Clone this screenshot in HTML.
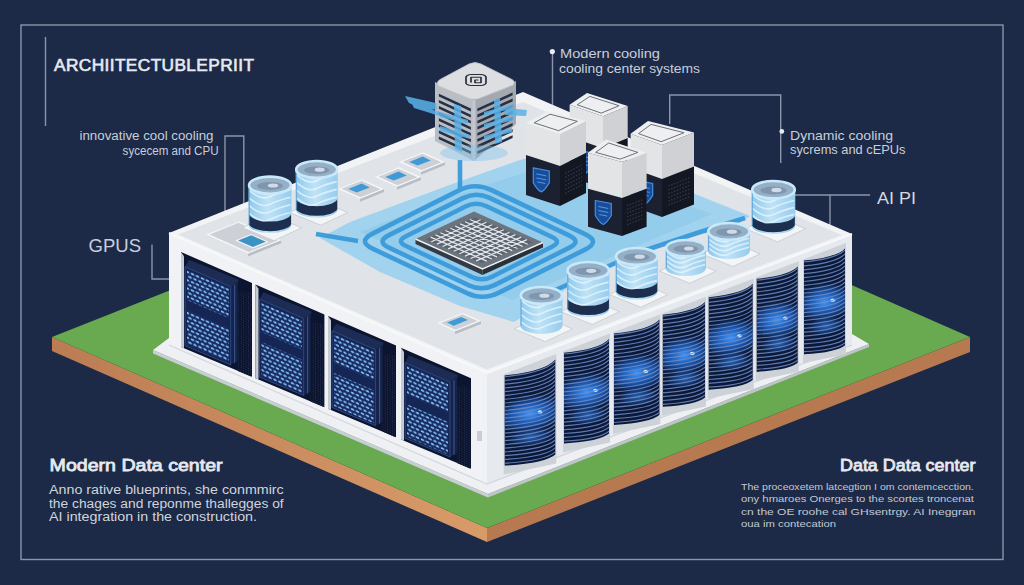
<!DOCTYPE html>
<html><head><meta charset="utf-8">
<style>
html,body{margin:0;padding:0;background:#1c2a47;width:1024px;height:585px;overflow:hidden}
svg{display:block}
text{font-family:"Liberation Sans",sans-serif}
</style></head>
<body>
<svg width="1024" height="585" viewBox="0 0 1024 585">
<defs>
<pattern id="dots" width="10" height="8.2" patternUnits="userSpaceOnUse" patternTransform="skewY(23.5)">
<rect x="0" y="0" width="10" height="8.2" fill="#182b60"/>
<g fill="#84c2f8"><ellipse cx="2.5" cy="2" rx="1.85" ry="1.05"/><ellipse cx="7.5" cy="2" rx="1.85" ry="1.05"/>
<ellipse cx="0" cy="6.1" rx="1.85" ry="1.05"/><ellipse cx="5" cy="6.1" rx="1.85" ry="1.05"/><ellipse cx="10" cy="6.1" rx="1.85" ry="1.05"/></g>
</pattern>
<pattern id="grid" width="2.4" height="2.4" patternUnits="userSpaceOnUse" patternTransform="skewY(23.5)">
<rect width="2.4" height="2.4" fill="#0a1129"/>
<rect x="0.6" y="0.6" width="1.1" height="1.1" fill="#24365e"/>
</pattern>
<pattern id="stripes" width="10" height="3.4" patternUnits="userSpaceOnUse" patternTransform="skewY(-20.8)">
<rect width="10" height="3.4" fill="#0b1838"/>
<rect y="0" width="10" height="1.0" fill="#6f86ad"/>
</pattern>
<radialGradient id="glow" cx="0.5" cy="0.5" r="0.5">
<stop offset="0" stop-color="#3f98ff" stop-opacity="1"/>
<stop offset="0.55" stop-color="#1f66cc" stop-opacity="0.75"/>
<stop offset="1" stop-color="#1d63c8" stop-opacity="0"/>
</radialGradient>
<linearGradient id="jarg" x1="0" x2="1" y1="0" y2="0">
<stop offset="0" stop-color="#8cc8ec"/>
<stop offset="0.45" stop-color="#c0e3f6"/>
<stop offset="1" stop-color="#96ccee"/>
</linearGradient>
</defs>
<rect x="0" y="0" width="1024" height="585" fill="#1c2a47"/>

<g fill="none" stroke="#8a94aa" stroke-width="1.4">
<rect x="21" y="25" width="982" height="534.5"/>
<line x1="45.5" y1="37" x2="45.5" y2="126"/>
<path d="M225,212 V136 H243.8 V205"/>
<path d="M152,244.6 V279 H170"/>
<path d="M552.5,52 V110"/>
<path d="M669.7,124 V95 H780.7 V163"/>
<path d="M795,195 H870 M830,195 V225"/>
</g>
<circle cx="552.3" cy="51.6" r="2.6" fill="#e8ecf2"/>
<circle cx="781.8" cy="131.4" r="2.4" fill="#e8ecf2"/>
<defs><linearGradient id="brl" x1="52" y1="0" x2="487" y2="0" gradientUnits="userSpaceOnUse"><stop offset="0" stop-color="#bb7c54"/><stop offset="1" stop-color="#d89b68"/></linearGradient></defs>
<polygon points="52,337 487,528 487,542 52,351" fill="url(#brl)"/>
<polygon points="487,528 970,337 970,352 487,542" fill="#b7794f"/>
<polygon points="52,337 535,146 970,337 487,528" fill="#69a94f"/>
<polygon points="153,350 488,494 869,344 852,334 487,476 169,338" fill="#eef0f3"/>
<polygon points="153,350 488,494 488,497.5 153,353.5" fill="#c9ced6"/>
<polygon points="488,494 869,344 869,347 488,497.5" fill="#bfc4cc"/>
<polygon points="169,233 487,373 487,484 169,345" fill="#f0f2f5"/>
<polygon points="487,373 852,234 852,345 487,484" fill="#e6e9ee"/>
<polyline points="169,345 487,484 852,345" fill="none" stroke="#d3d7dd" stroke-width="1.2"/>
<polygon points="181.0,252.0 252.0,282.9 252.0,376.8 181.0,347.0" fill="#0c1530"/>
<polygon points="181.0,252.0 184.0,256.3 184.0,348.3 181.0,347.0" fill="#c4cad4"/>
<polygon points="237.8,290.7 251.0,292.5 251.0,376.4 237.8,370.9" fill="url(#grid)"/>
<polygon points="185.0,266.7 189.0,259.7 238.7,279.6 236.7,286.6 230.7,286.6" fill="#1c2c55"/>
<polygon points="230.7,286.6 237.7,281.6 237.7,360.9 230.7,364.9" fill="#15224a"/>
<line x1="234.7" y1="284.6" x2="234.7" y2="362.9" stroke="#3d5a93" stroke-width="1"/>
<polygon points="185.0,266.7 230.7,286.6 230.7,364.9 185.0,345.7" fill="#162654" stroke="#34508a" stroke-width="0.8"/>
<polygon points="187.0,270.0 228.7,288.1 228.7,318.1 187.0,300.0" fill="url(#dots)"/>
<polygon points="187.0,310.2 228.7,328.4 228.7,362.3 187.0,344.2" fill="url(#dots)"/>
<polygon points="255.5,284.4 324.4,314.5 324.4,407.2 255.5,378.3" fill="#0c1530"/>
<polygon points="255.5,284.4 258.5,288.8 258.5,379.6 255.5,378.3" fill="#c4cad4"/>
<polygon points="310.6,322.4 323.4,324.0 323.4,406.8 310.6,401.4" fill="url(#grid)"/>
<polygon points="259.5,299.2 263.5,292.2 311.7,311.4 309.7,318.4 303.7,318.4" fill="#1c2c55"/>
<polygon points="303.7,318.4 310.7,313.4 310.7,391.5 303.7,395.5" fill="#15224a"/>
<line x1="307.7" y1="316.4" x2="307.7" y2="393.5" stroke="#3d5a93" stroke-width="1"/>
<polygon points="259.5,299.2 303.7,318.4 303.7,395.5 259.5,377.0" fill="#162654" stroke="#34508a" stroke-width="0.8"/>
<polygon points="261.5,302.4 301.7,319.9 301.7,349.5 261.5,331.9" fill="url(#dots)"/>
<polygon points="261.5,342.1 301.7,359.6 301.7,393.0 261.5,375.5" fill="url(#dots)"/>
<polygon points="328.0,316.0 396.0,345.6 396.0,437.3 328.0,408.7" fill="#0c1530"/>
<polygon points="328.0,316.0 331.0,320.3 331.0,410.0 328.0,408.7" fill="#c4cad4"/>
<polygon points="382.4,353.7 395.0,355.2 395.0,436.9 382.4,431.6" fill="url(#grid)"/>
<polygon points="332.0,330.8 336.0,323.8 383.6,342.7 381.6,349.7 375.6,349.7" fill="#1c2c55"/>
<polygon points="375.6,349.7 382.6,344.7 382.6,421.7 375.6,425.7" fill="#15224a"/>
<line x1="379.6" y1="347.7" x2="379.6" y2="423.7" stroke="#3d5a93" stroke-width="1"/>
<polygon points="332.0,330.8 375.6,349.7 375.6,425.7 332.0,407.4" fill="#162654" stroke="#34508a" stroke-width="0.8"/>
<polygon points="334.0,333.9 373.6,351.2 373.6,380.3 334.0,363.1" fill="url(#dots)"/>
<polygon points="334.0,373.0 373.6,390.3 373.6,423.2 334.0,406.0" fill="url(#dots)"/>
<polygon points="401.0,347.8 471.0,378.3 471.0,468.8 401.0,439.4" fill="#0c1530"/>
<polygon points="401.0,347.8 404.0,352.1 404.0,440.7 401.0,439.4" fill="#c4cad4"/>
<polygon points="457.0,386.2 470.0,387.9 470.0,468.4 457.0,462.9" fill="url(#grid)"/>
<polygon points="405.0,362.6 409.0,355.6 458.0,375.1 456.0,382.1 450.0,382.1" fill="#1c2c55"/>
<polygon points="450.0,382.1 457.0,377.1 457.0,453.0 450.0,457.0" fill="#15224a"/>
<line x1="454.0" y1="380.1" x2="454.0" y2="455.0" stroke="#3d5a93" stroke-width="1"/>
<polygon points="405.0,362.6 450.0,382.1 450.0,457.0 405.0,438.1" fill="#162654" stroke="#34508a" stroke-width="0.8"/>
<polygon points="407.0,365.7 448.0,383.5 448.0,412.2 407.0,394.4" fill="url(#dots)"/>
<polygon points="407.0,404.2 448.0,422.1 448.0,454.5 407.0,436.7" fill="url(#dots)"/>
<rect x="477" y="431" width="5" height="10" fill="#c9cdd4" transform="skewY(0)"/>
<defs>
<clipPath id="dc0"><path d="M504.7,375.4 Q545.2,371.4 555.3,359.5 L555.3,454.5 Q545.2,463.2 504.7,465.6 Z"/></clipPath>
<clipPath id="dc1"><path d="M564.0,352.7 Q600.0,349.1 609.0,338.9 L609.0,433.6 Q600.0,441.4 564.0,443.5 Z"/></clipPath>
<clipPath id="dc2"><path d="M614.0,333.5 Q650.3,329.9 659.4,319.6 L659.4,415.0 Q650.3,422.8 614.0,424.9 Z"/></clipPath>
<clipPath id="dc3"><path d="M662.8,314.8 Q696.6,311.4 705.0,302.1 L705.0,397.5 Q696.6,404.8 662.8,406.8 Z"/></clipPath>
<clipPath id="dc4"><path d="M708.7,297.2 Q743.9,293.6 752.7,283.8 L752.7,380.0 Q743.9,387.6 708.7,389.7 Z"/></clipPath>
<clipPath id="dc5"><path d="M756.7,278.8 Q789.5,275.5 797.7,266.5 L797.7,362.8 Q789.5,369.9 756.7,371.9 Z"/></clipPath>
<clipPath id="dc6"><path d="M804.0,260.6 Q836.8,257.3 845.0,248.4 L845.0,345.2 Q836.8,352.3 804.0,354.3 Z"/></clipPath>
</defs>
<polygon points="503.7,374.3 556.3,354.1 556.3,463.5 503.7,474.6" fill="#cdd2d9"/>
<g clip-path="url(#dc0)">
<rect x="502.7" y="349.5" width="54.6" height="120.1" fill="#0b1838"/>
<ellipse cx="530.0" cy="413.7" rx="35.4" ry="18.5" fill="url(#glow)" transform="rotate(-10 530.0 413.7)"/>
<ellipse cx="527.5" cy="436.9" rx="22.8" ry="9.3" fill="url(#glow)" opacity="0.6" transform="rotate(-8 530.0 413.7)"/>
<ellipse cx="540.1" cy="411.9" rx="2.4" ry="1.6" fill="#d5efff"/>
<path d="M504.7,376.7 Q545.2,372.7 555.3,360.9M504.7,380.5 Q545.2,376.5 555.3,364.8M504.7,384.2 Q545.2,380.3 555.3,368.8M504.7,388.0 Q545.2,384.2 555.3,372.8M504.7,391.7 Q545.2,388.0 555.3,376.7M504.7,395.5 Q545.2,391.8 555.3,380.7M504.7,399.3 Q545.2,395.6 555.3,384.6M504.7,403.0 Q545.2,399.5 555.3,388.6M504.7,406.8 Q545.2,403.3 555.3,392.5M504.7,410.5 Q545.2,407.1 555.3,396.5M504.7,414.3 Q545.2,410.9 555.3,400.5M504.7,418.1 Q545.2,414.8 555.3,404.4M504.7,421.8 Q545.2,418.6 555.3,408.4M504.7,425.6 Q545.2,422.4 555.3,412.3M504.7,429.3 Q545.2,426.3 555.3,416.3M504.7,433.1 Q545.2,430.1 555.3,420.2M504.7,436.8 Q545.2,433.9 555.3,424.2M504.7,440.6 Q545.2,437.7 555.3,428.2M504.7,444.4 Q545.2,441.6 555.3,432.1M504.7,448.1 Q545.2,445.4 555.3,436.1M504.7,451.9 Q545.2,449.2 555.3,440.0M504.7,455.6 Q545.2,453.0 555.3,444.0M504.7,459.4 Q545.2,456.9 555.3,447.9M504.7,463.2 Q545.2,460.7 555.3,451.9M504.7,466.9 Q545.2,464.5 555.3,455.9" fill="none" stroke="#6f8cc4" stroke-width="1.2" opacity="0.85"/>
</g>
<polygon points="563.0,351.5 610.0,333.5 610.0,442.6 563.0,452.5" fill="#cdd2d9"/>
<g clip-path="url(#dc1)">
<rect x="562.0" y="328.9" width="49.0" height="118.6" fill="#0b1838"/>
<ellipse cx="586.5" cy="392.2" rx="31.5" ry="18.6" fill="url(#glow)" transform="rotate(-10 586.5 392.2)"/>
<ellipse cx="584.2" cy="415.4" rx="20.2" ry="9.3" fill="url(#glow)" opacity="0.6" transform="rotate(-8 586.5 392.2)"/>
<ellipse cx="595.5" cy="390.3" rx="2.4" ry="1.6" fill="#d5efff"/>
<path d="M564.0,354.0 Q600.0,350.4 609.0,340.3M564.0,357.8 Q600.0,354.3 609.0,344.2M564.0,361.6 Q600.0,358.1 609.0,348.2M564.0,365.3 Q600.0,361.9 609.0,352.1M564.0,369.1 Q600.0,365.8 609.0,356.1M564.0,372.9 Q600.0,369.6 609.0,360.0M564.0,376.7 Q600.0,373.5 609.0,364.0M564.0,380.5 Q600.0,377.3 609.0,367.9M564.0,384.3 Q600.0,381.2 609.0,371.9M564.0,388.1 Q600.0,385.0 609.0,375.8M564.0,391.9 Q600.0,388.9 609.0,379.8M564.0,395.6 Q600.0,392.7 609.0,383.7M564.0,399.4 Q600.0,396.6 609.0,387.7M564.0,403.2 Q600.0,400.4 609.0,391.6M564.0,407.0 Q600.0,404.3 609.0,395.5M564.0,410.8 Q600.0,408.1 609.0,399.5M564.0,414.6 Q600.0,412.0 609.0,403.4M564.0,418.4 Q600.0,415.8 609.0,407.4M564.0,422.1 Q600.0,419.6 609.0,411.3M564.0,425.9 Q600.0,423.5 609.0,415.3M564.0,429.7 Q600.0,427.3 609.0,419.2M564.0,433.5 Q600.0,431.2 609.0,423.2M564.0,437.3 Q600.0,435.0 609.0,427.1M564.0,441.1 Q600.0,438.9 609.0,431.1M564.0,444.9 Q600.0,442.7 609.0,435.0" fill="none" stroke="#6f8cc4" stroke-width="1.2" opacity="0.85"/>
</g>
<polygon points="613.0,332.4 660.4,314.2 660.4,424.0 613.0,433.9" fill="#cdd2d9"/>
<g clip-path="url(#dc2)">
<rect x="612.0" y="309.6" width="49.4" height="119.4" fill="#0b1838"/>
<ellipse cx="636.7" cy="373.2" rx="31.8" ry="18.7" fill="url(#glow)" transform="rotate(-10 636.7 373.2)"/>
<ellipse cx="634.4" cy="396.6" rx="20.4" ry="9.3" fill="url(#glow)" opacity="0.6" transform="rotate(-8 636.7 373.2)"/>
<ellipse cx="645.8" cy="371.4" rx="2.4" ry="1.6" fill="#d5efff"/>
<path d="M614.0,334.8 Q650.3,331.2 659.4,321.0M614.0,338.6 Q650.3,335.1 659.4,324.9M614.0,342.4 Q650.3,338.9 659.4,328.9M614.0,346.2 Q650.3,342.8 659.4,332.9M614.0,350.1 Q650.3,346.7 659.4,336.9M614.0,353.9 Q650.3,350.6 659.4,340.8M614.0,357.7 Q650.3,354.4 659.4,344.8M614.0,361.5 Q650.3,358.3 659.4,348.8M614.0,365.3 Q650.3,362.2 659.4,352.8M614.0,369.1 Q650.3,366.0 659.4,356.7M614.0,372.9 Q650.3,369.9 659.4,360.7M614.0,376.7 Q650.3,373.8 659.4,364.7M614.0,380.5 Q650.3,377.7 659.4,368.7M614.0,384.4 Q650.3,381.5 659.4,372.6M614.0,388.2 Q650.3,385.4 659.4,376.6M614.0,392.0 Q650.3,389.3 659.4,380.6M614.0,395.8 Q650.3,393.1 659.4,384.6M614.0,399.6 Q650.3,397.0 659.4,388.5M614.0,403.4 Q650.3,400.9 659.4,392.5M614.0,407.2 Q650.3,404.8 659.4,396.5M614.0,411.0 Q650.3,408.6 659.4,400.4M614.0,414.8 Q650.3,412.5 659.4,404.4M614.0,418.7 Q650.3,416.4 659.4,408.4M614.0,422.5 Q650.3,420.2 659.4,412.4M614.0,426.3 Q650.3,424.1 659.4,416.3" fill="none" stroke="#6f8cc4" stroke-width="1.2" opacity="0.85"/>
</g>
<polygon points="661.8,313.7 706.0,296.7 706.0,406.5 661.8,415.8" fill="#cdd2d9"/>
<g clip-path="url(#dc3)">
<rect x="660.8" y="292.1" width="46.2" height="118.7" fill="#0b1838"/>
<ellipse cx="683.9" cy="355.3" rx="29.5" ry="18.7" fill="url(#glow)" transform="rotate(-10 683.9 355.3)"/>
<ellipse cx="681.8" cy="378.7" rx="19.0" ry="9.4" fill="url(#glow)" opacity="0.6" transform="rotate(-8 683.9 355.3)"/>
<ellipse cx="692.3" cy="353.4" rx="2.4" ry="1.6" fill="#d5efff"/>
<path d="M662.8,316.1 Q696.6,312.8 705.0,303.5M662.8,319.9 Q696.6,316.6 705.0,307.5M662.8,323.8 Q696.6,320.5 705.0,311.4M662.8,327.6 Q696.6,324.4 705.0,315.4M662.8,331.4 Q696.6,328.3 705.0,319.4M662.8,335.3 Q696.6,332.2 705.0,323.4M662.8,339.1 Q696.6,336.1 705.0,327.3M662.8,342.9 Q696.6,340.0 705.0,331.3M662.8,346.8 Q696.6,343.9 705.0,335.3M662.8,350.6 Q696.6,347.8 705.0,339.3M662.8,354.5 Q696.6,351.7 705.0,343.2M662.8,358.3 Q696.6,355.5 705.0,347.2M662.8,362.1 Q696.6,359.4 705.0,351.2M662.8,366.0 Q696.6,363.3 705.0,355.2M662.8,369.8 Q696.6,367.2 705.0,359.1M662.8,373.6 Q696.6,371.1 705.0,363.1M662.8,377.5 Q696.6,375.0 705.0,367.1M662.8,381.3 Q696.6,378.9 705.0,371.1M662.8,385.1 Q696.6,382.8 705.0,375.0M662.8,389.0 Q696.6,386.7 705.0,379.0M662.8,392.8 Q696.6,390.6 705.0,383.0M662.8,396.6 Q696.6,394.5 705.0,387.0M662.8,400.5 Q696.6,398.3 705.0,390.9M662.8,404.3 Q696.6,402.2 705.0,394.9M662.8,408.1 Q696.6,406.1 705.0,398.9" fill="none" stroke="#6f8cc4" stroke-width="1.2" opacity="0.85"/>
</g>
<polygon points="707.7,296.0 753.7,278.4 753.7,389.0 707.7,398.7" fill="#cdd2d9"/>
<g clip-path="url(#dc4)">
<rect x="706.7" y="273.8" width="48.0" height="119.9" fill="#0b1838"/>
<ellipse cx="730.7" cy="337.7" rx="30.8" ry="18.9" fill="url(#glow)" transform="rotate(-10 730.7 337.7)"/>
<ellipse cx="728.5" cy="361.3" rx="19.8" ry="9.4" fill="url(#glow)" opacity="0.6" transform="rotate(-8 730.7 337.7)"/>
<ellipse cx="739.5" cy="335.8" rx="2.4" ry="1.6" fill="#d5efff"/>
<path d="M708.7,298.5 Q743.9,295.0 752.7,285.2M708.7,302.4 Q743.9,298.9 752.7,289.2M708.7,306.2 Q743.9,302.8 752.7,293.2M708.7,310.1 Q743.9,306.8 752.7,297.2M708.7,313.9 Q743.9,310.7 752.7,301.2M708.7,317.8 Q743.9,314.6 752.7,305.2M708.7,321.7 Q743.9,318.5 752.7,309.3M708.7,325.5 Q743.9,322.4 752.7,313.3M708.7,329.4 Q743.9,326.3 752.7,317.3M708.7,333.2 Q743.9,330.2 752.7,321.3M708.7,337.1 Q743.9,334.2 752.7,325.3M708.7,340.9 Q743.9,338.1 752.7,329.3M708.7,344.8 Q743.9,342.0 752.7,333.3M708.7,348.6 Q743.9,345.9 752.7,337.3M708.7,352.5 Q743.9,349.8 752.7,341.3M708.7,356.4 Q743.9,353.7 752.7,345.3M708.7,360.2 Q743.9,357.7 752.7,349.4M708.7,364.1 Q743.9,361.6 752.7,353.4M708.7,367.9 Q743.9,365.5 752.7,357.4M708.7,371.8 Q743.9,369.4 752.7,361.4M708.7,375.6 Q743.9,373.3 752.7,365.4M708.7,379.5 Q743.9,377.2 752.7,369.4M708.7,383.3 Q743.9,381.1 752.7,373.4M708.7,387.2 Q743.9,385.1 752.7,377.4M708.7,391.1 Q743.9,389.0 752.7,381.4" fill="none" stroke="#6f8cc4" stroke-width="1.2" opacity="0.85"/>
</g>
<polygon points="755.7,277.6 798.7,261.2 798.7,371.8 755.7,380.9" fill="#cdd2d9"/>
<g clip-path="url(#dc5)">
<rect x="754.7" y="256.5" width="45.0" height="119.3" fill="#0b1838"/>
<ellipse cx="777.2" cy="320.0" rx="28.7" ry="18.9" fill="url(#glow)" transform="rotate(-10 777.2 320.0)"/>
<ellipse cx="775.2" cy="343.7" rx="18.4" ry="9.5" fill="url(#glow)" opacity="0.6" transform="rotate(-8 777.2 320.0)"/>
<ellipse cx="785.4" cy="318.1" rx="2.4" ry="1.6" fill="#d5efff"/>
<path d="M756.7,280.1 Q789.5,276.9 797.7,267.9M756.7,284.0 Q789.5,280.8 797.7,272.0M756.7,287.9 Q789.5,284.7 797.7,276.0M756.7,291.8 Q789.5,288.7 797.7,280.0M756.7,295.6 Q789.5,292.6 797.7,284.0M756.7,299.5 Q789.5,296.5 797.7,288.0M756.7,303.4 Q789.5,300.5 797.7,292.0M756.7,307.3 Q789.5,304.4 797.7,296.0M756.7,311.1 Q789.5,308.3 797.7,300.0M756.7,315.0 Q789.5,312.3 797.7,304.1M756.7,318.9 Q789.5,316.2 797.7,308.1M756.7,322.8 Q789.5,320.1 797.7,312.1M756.7,326.7 Q789.5,324.1 797.7,316.1M756.7,330.5 Q789.5,328.0 797.7,320.1M756.7,334.4 Q789.5,331.9 797.7,324.1M756.7,338.3 Q789.5,335.9 797.7,328.1M756.7,342.2 Q789.5,339.8 797.7,332.1M756.7,346.1 Q789.5,343.7 797.7,336.2M756.7,349.9 Q789.5,347.7 797.7,340.2M756.7,353.8 Q789.5,351.6 797.7,344.2M756.7,357.7 Q789.5,355.5 797.7,348.2M756.7,361.6 Q789.5,359.5 797.7,352.2M756.7,365.5 Q789.5,363.4 797.7,356.2M756.7,369.3 Q789.5,367.3 797.7,360.2M756.7,373.2 Q789.5,371.3 797.7,364.2" fill="none" stroke="#6f8cc4" stroke-width="1.2" opacity="0.85"/>
</g>
<polygon points="803.0,259.5 846.0,243.0 846.0,354.2 803.0,363.3" fill="#cdd2d9"/>
<g clip-path="url(#dc6)">
<rect x="802.0" y="238.4" width="45.0" height="119.9" fill="#0b1838"/>
<ellipse cx="824.5" cy="302.1" rx="28.7" ry="19.0" fill="url(#glow)" transform="rotate(-10 824.5 302.1)"/>
<ellipse cx="822.5" cy="325.9" rx="18.4" ry="9.5" fill="url(#glow)" opacity="0.6" transform="rotate(-8 824.5 302.1)"/>
<ellipse cx="832.7" cy="300.2" rx="2.4" ry="1.6" fill="#d5efff"/>
<path d="M804.0,262.0 Q836.8,258.7 845.0,249.8M804.0,265.9 Q836.8,262.7 845.0,253.8M804.0,269.8 Q836.8,266.6 845.0,257.9M804.0,273.7 Q836.8,270.6 845.0,261.9M804.0,277.6 Q836.8,274.5 845.0,265.9M804.0,281.5 Q836.8,278.5 845.0,270.0M804.0,285.4 Q836.8,282.5 845.0,274.0M804.0,289.3 Q836.8,286.4 845.0,278.1M804.0,293.2 Q836.8,290.4 845.0,282.1M804.0,297.1 Q836.8,294.3 845.0,286.1M804.0,301.0 Q836.8,298.3 845.0,290.2M804.0,304.9 Q836.8,302.2 845.0,294.2M804.0,308.8 Q836.8,306.2 845.0,298.2M804.0,312.7 Q836.8,310.2 845.0,302.3M804.0,316.6 Q836.8,314.1 845.0,306.3M804.0,320.5 Q836.8,318.1 845.0,310.3M804.0,324.4 Q836.8,322.0 845.0,314.4M804.0,328.3 Q836.8,326.0 845.0,318.4M804.0,332.2 Q836.8,329.9 845.0,322.4M804.0,336.1 Q836.8,333.9 845.0,326.5M804.0,340.0 Q836.8,337.9 845.0,330.5M804.0,343.9 Q836.8,341.8 845.0,334.5M804.0,347.8 Q836.8,345.8 845.0,338.6M804.0,351.7 Q836.8,349.7 845.0,342.6M804.0,355.6 Q836.8,353.7 845.0,346.7" fill="none" stroke="#6f8cc4" stroke-width="1.2" opacity="0.85"/>
</g>
<polygon points="169,233 523,92 852,234 487,373" fill="#f2f3f5"/>
<polyline points="169,233 487,373 852,234" fill="none" stroke="#f7f8fa" stroke-width="2"/>
<polygon points="178,234.5 523,102 842,235 487,369.5" fill="#e0e3e8"/>
<polygon points="320,238 350,222 455,183 520,160 560,148 650,175 700,196 750,216 735,226 640,250 600,268 514,322 460,306 380,272" fill="#a2d3ee" opacity="1"/>
<polygon points="360,232 455,195 540,168 640,188 712,214 600,262 512,300" fill="#8fcaea" opacity="0.75"/>
<g fill="none" stroke="#3a9ada" stroke-width="4.6" stroke-linejoin="round" opacity="0.95">
<path d="M406.0,236.3 L466.0,206.3 Q476.0,201.3 486.0,206.0 L552.0,237.0 Q562.0,241.7 552.0,246.7 L492.0,276.7 Q482.0,281.7 472.0,277.0 L406.0,246.0 Q396.0,241.3 406.0,236.3 Z"/>
<path d="M389.0,235.1 L463.0,198.1 Q476.0,191.6 489.0,197.7 L569.0,235.3 Q582.0,241.4 569.0,247.9 L495.0,284.9 Q482.0,291.4 469.0,285.3 L389.0,247.7 Q376.0,241.6 389.0,235.1 Z"/>
<path d="M373.0,233.4 L459.0,190.4 Q475.0,182.4 491.0,189.9 L585.0,234.1 Q601.0,241.6 585.0,249.6 L499.0,292.6 Q483.0,300.6 467.0,293.1 L373.0,248.9 Q357.0,241.4 373.0,233.4 Z"/>
<path d="M460,160 V190"/>
<path d="M316,234 L358,241"/>
<path d="M540,297 L600,270 L640,252 L700,232 L745,218"/>
</g>
<polygon points="415.5,239.0 482.5,269.0 482.5,275.0 415.5,244.0" fill="#353b45" />
<polygon points="482.5,269.0 543.0,242.5 543.0,247.5 482.5,275.0" fill="#2a2f38" />
<polygon points="415.5,239.0 474.0,211.5 543.0,242.5 482.5,269.0" fill="#6c747e" />
<polygon points="425.7,239.3 474.9,217.2 532.8,242.2 481.6,263.2" fill="#5c646f" />
<path d="M430.6,237.1L486.8,261.1M431.3,241.7L480.6,219.7M435.5,234.9L491.9,259.0M436.9,244.1L486.4,222.2M440.4,232.7L497.0,256.9M442.5,246.5L492.2,224.7M445.4,230.5L502.1,254.8M448.1,248.9L498.0,227.2M450.3,228.3L507.2,252.7M453.7,251.3L503.8,229.7M455.2,226.1L512.3,250.6M459.3,253.7L509.6,232.2M460.1,223.9L517.5,248.5M464.9,256.1L515.4,234.7M465.0,221.7L522.6,246.4M470.5,258.5L521.2,237.2M469.9,219.5L527.7,244.3M476.1,260.9L527.0,239.7" stroke="#e3e7ec" stroke-width="1.25" fill="none"/>
<polyline points="415.5,239.0 482.5,269.0 543.0,242.5" fill="none" stroke="#eef1f4" stroke-width="1.4"/>
<polygon points="360.0,198.8 384.0,189.1 384.0,192.1 360.0,201.8" fill="#b9bec6" />
<polygon points="338.0,188.9 362.0,179.2 384.0,189.1 360.0,198.8" fill="#f4f5f7" />
<polygon points="341.5,188.7 361.5,180.7 380.5,189.3 360.5,197.3" fill="#cdd1d7" />
<polygon points="348.3,188.9 361.6,183.6 369.8,187.4 356.6,192.6" fill="#3f9ad6" />
<polygon points="397.0,186.8 421.0,177.1 421.0,180.1 397.0,189.8" fill="#b9bec6" />
<polygon points="375.0,176.9 399.0,167.2 421.0,177.1 397.0,186.8" fill="#f4f5f7" />
<polygon points="378.5,176.7 398.5,168.7 417.5,177.3 397.5,185.3" fill="#cdd1d7" />
<polygon points="385.3,176.9 398.6,171.6 406.8,175.4 393.6,180.6" fill="#3f9ad6" />
<polygon points="421.0,171.8 445.0,162.1 445.0,165.1 421.0,174.8" fill="#b9bec6" />
<polygon points="399.0,161.9 423.0,152.2 445.0,162.1 421.0,171.8" fill="#f4f5f7" />
<polygon points="402.5,161.7 422.5,153.7 441.5,162.3 421.5,170.3" fill="#cdd1d7" />
<polygon points="409.3,161.9 422.6,156.6 430.8,160.4 417.6,165.6" fill="#3f9ad6" />
<polygon points="248.1,253.4 281.1,240.2 281.1,243.2 248.1,256.4" fill="#b9bec6" />
<polygon points="206.1,234.6 239.1,221.4 281.1,240.2 248.1,253.4" fill="#f4f5f7" />
<polygon points="209.6,234.4 238.6,222.8 277.6,240.4 248.6,252.0" fill="#cdd1d7" />
<polygon points="235.1,240.4 251.2,234.0 268.9,241.9 252.8,248.4" fill="#f1f3f5" />
<polygon points="238.1,240.5 251.2,235.2 265.9,241.8 252.8,247.1" fill="#3b93c4" />
<polygon points="455.0,331.2 481.0,320.9 481.0,323.9 455.0,334.2" fill="#b9bec6" />
<polygon points="437.0,323.1 463.0,312.8 481.0,320.9 455.0,331.2" fill="#f4f5f7" />
<polygon points="440.5,323.0 462.5,314.2 477.5,321.0 455.5,329.8" fill="#cdd1d7" />
<polygon points="446.9,322.6 461.2,316.9 467.9,319.9 453.7,325.7" fill="#3f9ad6" />
<polygon points="435.0,82.0 474.0,100.0 474.0,161.0 435.0,141.0" fill="#b9bdc4" />
<polygon points="474.0,100.0 516.0,81.0 516.0,124.0 474.0,161.0" fill="#a4a9b1" />
<polygon points="438.9,93.8 470.9,108.6 470.9,111.4 438.9,96.6" fill="#263045"/>
<polygon points="477.4,108.5 512.6,92.5 512.6,95.3 477.4,111.3" fill="#263045"/>
<polygon points="438.9,99.9 470.9,114.7 470.9,117.5 438.9,102.7" fill="#263045"/>
<polygon points="477.4,114.6 512.6,98.6 512.6,101.4 477.4,117.4" fill="#263045"/>
<polygon points="438.9,106.0 470.9,120.8 470.9,123.6 438.9,108.8" fill="#263045"/>
<polygon points="477.4,120.7 512.6,104.7 512.6,107.5 477.4,123.5" fill="#263045"/>
<polygon points="438.9,112.1 470.9,126.9 470.9,129.7 438.9,114.9" fill="#263045"/>
<polygon points="477.4,126.8 512.6,110.8 512.6,113.6 477.4,129.6" fill="#263045"/>
<polygon points="438.9,118.2 470.9,133.0 470.9,135.8 438.9,121.0" fill="#263045"/>
<polygon points="477.4,132.9 512.6,116.9 512.6,119.7 477.4,135.7" fill="#263045"/>
<polygon points="438.9,124.3 470.9,139.1 470.9,141.9 438.9,127.1" fill="#263045"/>
<polygon points="477.4,139.0 512.6,123.0 512.6,125.8 477.4,141.8" fill="#263045"/>
<polygon points="438.9,130.4 470.9,145.2 470.9,148.0 438.9,133.2" fill="#263045"/>
<polygon points="477.4,145.1 512.6,129.1 512.6,131.9 477.4,147.9" fill="#263045"/>
<polygon points="438.9,136.5 470.9,151.3 470.9,154.1 438.9,139.3" fill="#263045"/>
<polygon points="477.4,151.2 512.6,135.2 512.6,138.0 477.4,154.0" fill="#263045"/>
<polygon points="472.5,100.0 475.5,100.0 475.5,161.0 472.5,161.0" fill="#c4c8ce"/>
<ellipse cx="474" cy="153" rx="34" ry="8" fill="#7cc4ee" opacity="0.4"/>
<path d="M439,86 Q435,82 441,79 L469,64 Q475,61 481,64 L511,79 Q516,81 513,85 L480,98 Q474,101 468,98 Z" fill="#dcdee1" stroke="#c5c8cd" stroke-width="0.8"/>
<g transform="translate(476,80) scale(1,0.55)" fill="none" stroke="#2a2f3a" stroke-width="1.7" stroke-linejoin="round" stroke-linecap="round"><rect x="-10" y="-10" width="20" height="20" rx="5"/><path d="M-5,4 V-5 H5 V5 H-1 V0 H2"/></g>
<g fill="#5ab2ea" opacity="0.85">
<polygon points="405,96 436,103 437,109 430,110 436,115 409,103"/>
<polygon points="412,104 440,112 440,116 414,108"/>
<polygon points="454,104 461,106 462,152 455,149"/>
<polygon points="440,112 468,120 468,124 440,117"/>
<polygon points="440,126 470,135 470,139 440,131"/>
<polygon points="494,100 500,98 502,142 495,144"/>
<polygon points="484,112 514,104 514,108 484,116"/>
<polygon points="484,124 514,116 514,120 484,128"/>
<polygon points="484,136 512,128 512,132 484,140"/>
<polygon points="505,108 527,110 526,116 505,115"/>
</g>
<polygon points="569.6,104.7 603.0,116.3 603.0,148.3 569.6,136.7" fill="#e3e4e6" />
<polygon points="603.0,116.3 627.7,106.0 627.7,138.0 603.0,148.3" fill="#cfd1d4" />
<polygon points="569.6,136.7 603.0,148.3 603.0,188.3 569.6,176.7" fill="#1b2130" />
<polygon points="603.0,148.3 627.7,138.0 627.7,178.0 603.0,188.3" fill="#121722" />
<path d="M576.6,149.9 l16,3 l0,12 q-5,8 -8,9 q-4,-2 -8,-9 z" fill="#1b4c97" stroke="#3f8fe6" stroke-width="1.2"/>
<path d="M579.6,155.9 l10,2 M579.6,159.9 l10,2 M580.6,163.9 l8,1.6" stroke="#4a9af0" stroke-width="1" fill="none"/>
<line x1="607.9" y1="156.2" x2="624.0" y2="149.5" stroke="#333a4a" stroke-width="1.2" stroke-dasharray="1.5 1.5"/>
<line x1="607.9" y1="160.2" x2="624.0" y2="153.5" stroke="#333a4a" stroke-width="1.2" stroke-dasharray="1.5 1.5"/>
<line x1="607.9" y1="164.2" x2="624.0" y2="157.5" stroke="#333a4a" stroke-width="1.2" stroke-dasharray="1.5 1.5"/>
<line x1="607.9" y1="168.2" x2="624.0" y2="161.5" stroke="#333a4a" stroke-width="1.2" stroke-dasharray="1.5 1.5"/>
<line x1="607.9" y1="172.2" x2="624.0" y2="165.5" stroke="#333a4a" stroke-width="1.2" stroke-dasharray="1.5 1.5"/>
<line x1="607.9" y1="176.2" x2="624.0" y2="169.5" stroke="#333a4a" stroke-width="1.2" stroke-dasharray="1.5 1.5"/>
<polygon points="569.6,104.7 587.0,93.0 627.7,106.0 603.0,116.3" fill="#eeeff0" />
<polygon points="577.2,104.8 589.8,96.4 619.1,105.7 601.3,113.1" fill="none" stroke="#6b7079" stroke-width="1"/>
<polygon points="526.0,123.0 560.0,134.0 560.0,166.0 526.0,155.0" fill="#e3e4e6" />
<polygon points="560.0,134.0 586.0,121.0 586.0,153.0 560.0,166.0" fill="#cfd1d4" />
<polygon points="526.0,155.0 560.0,166.0 560.0,206.0 526.0,195.0" fill="#1b2130" />
<polygon points="560.0,166.0 586.0,153.0 586.0,193.0 560.0,206.0" fill="#121722" />
<path d="M533.3,167.9 l16,3 l0,12 q-5,8 -8,9 q-4,-2 -8,-9 z" fill="#1b4c97" stroke="#3f8fe6" stroke-width="1.2"/>
<path d="M536.3,173.9 l10,2 M536.3,177.9 l10,2 M537.3,181.9 l8,1.6" stroke="#4a9af0" stroke-width="1" fill="none"/>
<line x1="565.2" y1="173.4" x2="582.1" y2="164.9" stroke="#333a4a" stroke-width="1.2" stroke-dasharray="1.5 1.5"/>
<line x1="565.2" y1="177.4" x2="582.1" y2="168.9" stroke="#333a4a" stroke-width="1.2" stroke-dasharray="1.5 1.5"/>
<line x1="565.2" y1="181.4" x2="582.1" y2="172.9" stroke="#333a4a" stroke-width="1.2" stroke-dasharray="1.5 1.5"/>
<line x1="565.2" y1="185.4" x2="582.1" y2="176.9" stroke="#333a4a" stroke-width="1.2" stroke-dasharray="1.5 1.5"/>
<line x1="565.2" y1="189.4" x2="582.1" y2="180.9" stroke="#333a4a" stroke-width="1.2" stroke-dasharray="1.5 1.5"/>
<line x1="565.2" y1="193.4" x2="582.1" y2="184.9" stroke="#333a4a" stroke-width="1.2" stroke-dasharray="1.5 1.5"/>
<polygon points="526.0,123.0 548.0,111.0 586.0,121.0 560.0,134.0" fill="#eeeff0" />
<polygon points="534.1,122.8 550.0,114.2 577.3,121.3 558.6,130.7" fill="none" stroke="#6b7079" stroke-width="1"/>
<polygon points="630.6,133.8 662.0,145.0 662.0,179.0 630.6,167.8" fill="#e3e4e6" />
<polygon points="662.0,145.0 694.0,132.5 694.0,166.5 662.0,179.0" fill="#cfd1d4" />
<polygon points="630.6,167.8 662.0,179.0 662.0,217.0 630.6,205.8" fill="#1b2130" />
<polygon points="662.0,179.0 694.0,166.5 694.0,204.5 662.0,217.0" fill="#121722" />
<path d="M636.7,180.4 l16,3 l0,12 q-5,8 -8,9 q-4,-2 -8,-9 z" fill="#1b4c97" stroke="#3f8fe6" stroke-width="1.2"/>
<path d="M639.7,186.4 l10,2 M639.7,190.4 l10,2 M640.7,194.4 l8,1.6" stroke="#4a9af0" stroke-width="1" fill="none"/>
<line x1="668.4" y1="186.0" x2="689.2" y2="177.9" stroke="#333a4a" stroke-width="1.2" stroke-dasharray="1.5 1.5"/>
<line x1="668.4" y1="189.8" x2="689.2" y2="181.7" stroke="#333a4a" stroke-width="1.2" stroke-dasharray="1.5 1.5"/>
<line x1="668.4" y1="193.6" x2="689.2" y2="185.5" stroke="#333a4a" stroke-width="1.2" stroke-dasharray="1.5 1.5"/>
<line x1="668.4" y1="197.4" x2="689.2" y2="189.3" stroke="#333a4a" stroke-width="1.2" stroke-dasharray="1.5 1.5"/>
<line x1="668.4" y1="201.2" x2="689.2" y2="193.1" stroke="#333a4a" stroke-width="1.2" stroke-dasharray="1.5 1.5"/>
<line x1="668.4" y1="205.0" x2="689.2" y2="196.9" stroke="#333a4a" stroke-width="1.2" stroke-dasharray="1.5 1.5"/>
<polygon points="630.6,133.8 648.0,121.0 694.0,132.5 662.0,145.0" fill="#eeeff0" />
<polygon points="638.5,133.6 651.0,124.4 684.1,132.7 661.1,141.7" fill="none" stroke="#6b7079" stroke-width="1"/>
<polygon points="588.0,152.7 622.0,162.0 622.0,198.0 588.0,188.7" fill="#e3e4e6" />
<polygon points="622.0,162.0 646.6,152.7 646.6,188.7 622.0,198.0" fill="#cfd1d4" />
<polygon points="588.0,188.7 622.0,198.0 622.0,236.0 588.0,226.7" fill="#1b2130" />
<polygon points="622.0,198.0 646.6,188.7 646.6,226.7 622.0,236.0" fill="#121722" />
<path d="M595.3,200.5 l16,3 l0,12 q-5,8 -8,9 q-4,-2 -8,-9 z" fill="#1b4c97" stroke="#3f8fe6" stroke-width="1.2"/>
<path d="M598.3,206.5 l10,2 M598.3,210.5 l10,2 M599.3,214.5 l8,1.6" stroke="#4a9af0" stroke-width="1" fill="none"/>
<line x1="626.9" y1="205.6" x2="642.9" y2="199.6" stroke="#333a4a" stroke-width="1.2" stroke-dasharray="1.5 1.5"/>
<line x1="626.9" y1="209.4" x2="642.9" y2="203.4" stroke="#333a4a" stroke-width="1.2" stroke-dasharray="1.5 1.5"/>
<line x1="626.9" y1="213.2" x2="642.9" y2="207.2" stroke="#333a4a" stroke-width="1.2" stroke-dasharray="1.5 1.5"/>
<line x1="626.9" y1="217.0" x2="642.9" y2="211.0" stroke="#333a4a" stroke-width="1.2" stroke-dasharray="1.5 1.5"/>
<line x1="626.9" y1="220.8" x2="642.9" y2="214.8" stroke="#333a4a" stroke-width="1.2" stroke-dasharray="1.5 1.5"/>
<line x1="626.9" y1="224.6" x2="642.9" y2="218.6" stroke="#333a4a" stroke-width="1.2" stroke-dasharray="1.5 1.5"/>
<polygon points="588.0,152.7 606.0,139.6 646.6,152.7 622.0,162.0" fill="#eeeff0" />
<polygon points="595.7,152.4 608.7,143.0 637.9,152.4 620.2,159.1" fill="none" stroke="#6b7079" stroke-width="1"/>
<polygon points="242.5,227.8 270.0,214.1 301.5,227.8 274.0,240.7" fill="#f3f5f7" stroke="#c5cad1" stroke-width="0.8"/>
<path d="M248.5,185.2 L248.5,224.4 A21.5,8.6 0 0 0 291.5,224.4 L291.5,185.2 Z" fill="url(#jarg)"/>
<path d="M249.0,214.8 A21.5,8.6 0 0 0 291.0,214.8 L291.0,224.4 A21.5,8.6 0 0 1 249.0,224.4 Z" fill="#1e2e4e"/>
<path d="M249.5,190.6 Q261.4,200.9 270.0,196.6 T290.5,189.6" fill="none" stroke="#eaf7ff" stroke-width="1.6" opacity="0.75"/>
<path d="M249.5,198.2 Q261.4,208.5 270.0,204.2 T290.5,197.2" fill="none" stroke="#eaf7ff" stroke-width="1.6" opacity="0.75"/>
<path d="M249.5,205.8 Q261.4,216.2 270.0,211.9 T290.5,204.8" fill="none" stroke="#eaf7ff" stroke-width="1.6" opacity="0.75"/>
<path d="M249.5,213.5 Q261.4,223.8 270.0,219.5 T290.5,212.5" fill="none" stroke="#eaf7ff" stroke-width="1.6" opacity="0.75"/>
<path d="M249.3,185.2 L249.3,224.4" stroke="#5d9fd6" stroke-width="1.2" opacity="0.7"/>
<ellipse cx="270.0" cy="185.2" rx="21.0" ry="8.6" fill="#95afc6" stroke="#c9e9fa" stroke-width="2.6"/>
<ellipse cx="270.0" cy="186.0" rx="12.9" ry="3.9" fill="#7890a8" opacity="0.8"/>
<ellipse cx="273.0" cy="185.5" rx="5.2" ry="2.1" fill="#dfe8f0" opacity="0.85"/>
<polygon points="289.7,212.6 316.7,199.1 347.7,212.6 320.7,225.2" fill="#f3f5f7" stroke="#c5cad1" stroke-width="0.8"/>
<path d="M295.7,169.4 L295.7,209.2 A21.0,8.4 0 0 0 337.7,209.2 L337.7,169.4 Z" fill="url(#jarg)"/>
<path d="M296.2,199.6 A21.0,8.4 0 0 0 337.2,199.6 L337.2,209.2 A21.0,8.4 0 0 1 296.2,209.2 Z" fill="#1e2e4e"/>
<path d="M296.7,174.8 Q308.3,184.9 316.7,180.7 T336.7,173.8" fill="none" stroke="#eaf7ff" stroke-width="1.6" opacity="0.75"/>
<path d="M296.7,182.6 Q308.3,192.7 316.7,188.5 T336.7,181.6" fill="none" stroke="#eaf7ff" stroke-width="1.6" opacity="0.75"/>
<path d="M296.7,190.4 Q308.3,200.4 316.7,196.2 T336.7,189.4" fill="none" stroke="#eaf7ff" stroke-width="1.6" opacity="0.75"/>
<path d="M296.7,198.1 Q308.3,208.2 316.7,204.0 T336.7,197.1" fill="none" stroke="#eaf7ff" stroke-width="1.6" opacity="0.75"/>
<path d="M296.5,169.4 L296.5,209.2" stroke="#5d9fd6" stroke-width="1.2" opacity="0.7"/>
<ellipse cx="316.7" cy="169.4" rx="20.5" ry="8.4" fill="#95afc6" stroke="#c9e9fa" stroke-width="2.6"/>
<ellipse cx="316.7" cy="170.2" rx="12.6" ry="3.8" fill="#7890a8" opacity="0.8"/>
<ellipse cx="319.7" cy="169.7" rx="5.0" ry="2.1" fill="#dfe8f0" opacity="0.85"/>
<polygon points="745.6,228.8 773.5,214.8 805.3,228.8 777.5,241.9" fill="#f3f5f7" stroke="#c5cad1" stroke-width="0.8"/>
<path d="M751.6,189.7 L751.6,225.3 A21.8,8.7 0 0 0 795.3,225.3 L795.3,189.7 Z" fill="url(#jarg)"/>
<path d="M752.1,216.3 A21.8,8.7 0 0 0 794.8,216.3 L794.8,225.3 A21.8,8.7 0 0 1 752.1,225.3 Z" fill="#1e2e4e"/>
<path d="M752.6,194.6 Q764.7,205.1 773.5,200.7 T794.3,193.6" fill="none" stroke="#eaf7ff" stroke-width="1.6" opacity="0.75"/>
<path d="M752.6,201.5 Q764.7,212.0 773.5,207.6 T794.3,200.5" fill="none" stroke="#eaf7ff" stroke-width="1.6" opacity="0.75"/>
<path d="M752.6,208.4 Q764.7,218.9 773.5,214.6 T794.3,207.4" fill="none" stroke="#eaf7ff" stroke-width="1.6" opacity="0.75"/>
<path d="M752.6,215.4 Q764.7,225.9 773.5,221.5 T794.3,214.4" fill="none" stroke="#eaf7ff" stroke-width="1.6" opacity="0.75"/>
<path d="M752.4,189.7 L752.4,225.3" stroke="#5d9fd6" stroke-width="1.2" opacity="0.7"/>
<ellipse cx="773.5" cy="189.7" rx="21.3" ry="8.7" fill="#95afc6" stroke="#c9e9fa" stroke-width="2.6"/>
<ellipse cx="773.5" cy="190.5" rx="13.1" ry="3.9" fill="#7890a8" opacity="0.8"/>
<ellipse cx="776.5" cy="190.0" rx="5.2" ry="2.2" fill="#dfe8f0" opacity="0.85"/>
<polygon points="701.8,253.9 728.9,240.4 760.0,253.9 732.9,266.6" fill="#f3f5f7" stroke="#c5cad1" stroke-width="0.8"/>
<path d="M707.8,231.4 L707.8,250.6 A21.1,8.4 0 0 0 750.0,250.6 L750.0,231.4 Z" fill="url(#jarg)"/>
<path d="M708.8,234.6 Q720.5,244.7 728.9,240.5 T749.0,233.6" fill="none" stroke="#eaf7ff" stroke-width="1.6" opacity="0.75"/>
<path d="M708.8,239.2 Q720.5,249.3 728.9,245.1 T749.0,238.2" fill="none" stroke="#eaf7ff" stroke-width="1.6" opacity="0.75"/>
<path d="M708.8,243.7 Q720.5,253.8 728.9,249.6 T749.0,242.7" fill="none" stroke="#eaf7ff" stroke-width="1.6" opacity="0.75"/>
<path d="M708.8,248.2 Q720.5,258.4 728.9,254.1 T749.0,247.2" fill="none" stroke="#eaf7ff" stroke-width="1.6" opacity="0.75"/>
<path d="M708.6,231.4 L708.6,250.6" stroke="#5d9fd6" stroke-width="1.2" opacity="0.7"/>
<ellipse cx="728.9" cy="231.4" rx="20.6" ry="8.4" fill="#95afc6" stroke="#c9e9fa" stroke-width="2.6"/>
<ellipse cx="728.9" cy="232.2" rx="12.7" ry="3.8" fill="#7890a8" opacity="0.8"/>
<ellipse cx="731.9" cy="231.7" rx="5.1" ry="2.1" fill="#dfe8f0" opacity="0.85"/>
<polygon points="659.6,271.2 685.8,258.2 716.0,271.2 689.8,283.3" fill="#f3f5f7" stroke="#c5cad1" stroke-width="0.8"/>
<path d="M665.6,248.1 L665.6,267.9 A20.2,8.1 0 0 0 706.0,267.9 L706.0,248.1 Z" fill="url(#jarg)"/>
<path d="M666.6,251.4 Q677.7,261.1 685.8,257.0 T705.0,250.4" fill="none" stroke="#eaf7ff" stroke-width="1.6" opacity="0.75"/>
<path d="M666.6,256.1 Q677.7,265.8 685.8,261.7 T705.0,255.1" fill="none" stroke="#eaf7ff" stroke-width="1.6" opacity="0.75"/>
<path d="M666.6,260.8 Q677.7,270.5 685.8,266.5 T705.0,259.8" fill="none" stroke="#eaf7ff" stroke-width="1.6" opacity="0.75"/>
<path d="M666.6,265.5 Q677.7,275.2 685.8,271.2 T705.0,264.5" fill="none" stroke="#eaf7ff" stroke-width="1.6" opacity="0.75"/>
<path d="M666.4,248.1 L666.4,267.9" stroke="#5d9fd6" stroke-width="1.2" opacity="0.7"/>
<ellipse cx="685.8" cy="248.1" rx="19.7" ry="8.1" fill="#95afc6" stroke="#c9e9fa" stroke-width="2.6"/>
<ellipse cx="685.8" cy="248.9" rx="12.1" ry="3.6" fill="#7890a8" opacity="0.8"/>
<ellipse cx="688.8" cy="248.4" rx="4.8" ry="2.0" fill="#dfe8f0" opacity="0.85"/>
<polygon points="609.6,294.6 636.7,281.1 667.8,294.6 640.7,307.3" fill="#f3f5f7" stroke="#c5cad1" stroke-width="0.8"/>
<path d="M615.6,256.4 L615.6,291.3 A21.1,8.4 0 0 0 657.8,291.3 L657.8,256.4 Z" fill="url(#jarg)"/>
<path d="M616.1,282.5 A21.1,8.4 0 0 0 657.3,282.5 L657.3,291.3 A21.1,8.4 0 0 1 616.1,291.3 Z" fill="#1e2e4e"/>
<path d="M616.6,261.2 Q628.3,271.3 636.7,267.1 T656.8,260.2" fill="none" stroke="#eaf7ff" stroke-width="1.6" opacity="0.75"/>
<path d="M616.6,268.0 Q628.3,278.1 636.7,273.9 T656.8,267.0" fill="none" stroke="#eaf7ff" stroke-width="1.6" opacity="0.75"/>
<path d="M616.6,274.8 Q628.3,284.9 636.7,280.7 T656.8,273.8" fill="none" stroke="#eaf7ff" stroke-width="1.6" opacity="0.75"/>
<path d="M616.6,281.6 Q628.3,291.7 636.7,287.5 T656.8,280.6" fill="none" stroke="#eaf7ff" stroke-width="1.6" opacity="0.75"/>
<path d="M616.4,256.4 L616.4,291.3" stroke="#5d9fd6" stroke-width="1.2" opacity="0.7"/>
<ellipse cx="636.7" cy="256.4" rx="20.6" ry="8.4" fill="#95afc6" stroke="#c9e9fa" stroke-width="2.6"/>
<ellipse cx="636.7" cy="257.2" rx="12.7" ry="3.8" fill="#7890a8" opacity="0.8"/>
<ellipse cx="639.7" cy="256.7" rx="5.1" ry="2.1" fill="#dfe8f0" opacity="0.85"/>
<polygon points="561.0,311.8 588.2,298.2 619.4,311.8 592.2,324.5" fill="#f3f5f7" stroke="#c5cad1" stroke-width="0.8"/>
<path d="M567.0,270.5 L567.0,308.4 A21.2,8.5 0 0 0 609.4,308.4 L609.4,270.5 Z" fill="url(#jarg)"/>
<path d="M567.5,299.1 A21.2,8.5 0 0 0 608.9,299.1 L608.9,308.4 A21.2,8.5 0 0 1 567.5,308.4 Z" fill="#1e2e4e"/>
<path d="M568.0,275.7 Q579.7,285.8 588.2,281.6 T608.4,274.7" fill="none" stroke="#eaf7ff" stroke-width="1.6" opacity="0.75"/>
<path d="M568.0,283.1 Q579.7,293.2 588.2,289.0 T608.4,282.1" fill="none" stroke="#eaf7ff" stroke-width="1.6" opacity="0.75"/>
<path d="M568.0,290.5 Q579.7,300.6 588.2,296.4 T608.4,289.5" fill="none" stroke="#eaf7ff" stroke-width="1.6" opacity="0.75"/>
<path d="M568.0,297.9 Q579.7,308.0 588.2,303.8 T608.4,296.9" fill="none" stroke="#eaf7ff" stroke-width="1.6" opacity="0.75"/>
<path d="M567.8,270.5 L567.8,308.4" stroke="#5d9fd6" stroke-width="1.2" opacity="0.7"/>
<ellipse cx="588.2" cy="270.5" rx="20.7" ry="8.5" fill="#95afc6" stroke="#c9e9fa" stroke-width="2.6"/>
<ellipse cx="588.2" cy="271.3" rx="12.7" ry="3.8" fill="#7890a8" opacity="0.8"/>
<ellipse cx="591.2" cy="270.8" rx="5.1" ry="2.1" fill="#dfe8f0" opacity="0.85"/>
<polygon points="514.3,328.9 541.4,315.4 572.5,328.9 545.4,341.6" fill="#f3f5f7" stroke="#c5cad1" stroke-width="0.8"/>
<path d="M520.3,295.4 L520.3,325.6 A21.1,8.4 0 0 0 562.5,325.6 L562.5,295.4 Z" fill="url(#jarg)"/>
<path d="M521.3,300.4 Q533.0,310.6 541.4,306.4 T561.5,299.4" fill="none" stroke="#eaf7ff" stroke-width="1.6" opacity="0.75"/>
<path d="M521.3,307.6 Q533.0,317.7 541.4,313.5 T561.5,306.6" fill="none" stroke="#eaf7ff" stroke-width="1.6" opacity="0.75"/>
<path d="M521.3,314.8 Q533.0,324.9 541.4,320.7 T561.5,313.8" fill="none" stroke="#eaf7ff" stroke-width="1.6" opacity="0.75"/>
<path d="M521.3,321.9 Q533.0,332.0 541.4,327.8 T561.5,320.9" fill="none" stroke="#eaf7ff" stroke-width="1.6" opacity="0.75"/>
<path d="M521.1,295.4 L521.1,325.6" stroke="#5d9fd6" stroke-width="1.2" opacity="0.7"/>
<ellipse cx="541.4" cy="295.4" rx="20.6" ry="8.4" fill="#95afc6" stroke="#c9e9fa" stroke-width="2.6"/>
<ellipse cx="541.4" cy="296.2" rx="12.7" ry="3.8" fill="#7890a8" opacity="0.8"/>
<ellipse cx="544.4" cy="295.7" rx="5.1" ry="2.1" fill="#dfe8f0" opacity="0.85"/>

<g fill="#e6e9ef">
<text x="54" y="70.5" font-size="17.3" stroke="#e6e9ef" stroke-width="0.65" textLength="200" lengthAdjust="spacing">ARCHIITECTUBLEPRIIT</text>
<text x="79.5" y="140.3" font-size="12.5" fill="#c9ced8" textLength="134" lengthAdjust="spacingAndGlyphs">innovative cool cooling</text>
<text x="122.6" y="154.7" font-size="12.5" fill="#c9ced8" textLength="96" lengthAdjust="spacingAndGlyphs">sycecem and CPU</text>
<text x="88.5" y="251.8" font-size="18.5" fill="#c9cfdc" textLength="52.5" lengthAdjust="spacingAndGlyphs">GPUS</text>
<text x="560" y="58.3" font-size="13" fill="#c9ced8" textLength="100" lengthAdjust="spacingAndGlyphs">Modern cooling</text>
<text x="559" y="72.6" font-size="13" fill="#c9ced8" textLength="141" lengthAdjust="spacingAndGlyphs">cooling center systems</text>
<text x="790" y="139.6" font-size="13.5" fill="#c9ced8" textLength="103" lengthAdjust="spacingAndGlyphs">Dynamic cooling</text>
<text x="790" y="153.8" font-size="13.5" fill="#c9ced8" textLength="115.5" lengthAdjust="spacingAndGlyphs">sycrems and cEPUs</text>
<text x="877" y="204.4" font-size="17" fill="#d5d9e2" textLength="39" lengthAdjust="spacingAndGlyphs">AI PI</text>
<text x="49.6" y="470.8" font-size="17" stroke="#e6e9ef" stroke-width="0.8" textLength="173" lengthAdjust="spacingAndGlyphs">Modern Data center</text>
<text x="49" y="494.4" font-size="12" fill="#d0d4dc" textLength="234.7" lengthAdjust="spacingAndGlyphs">Anno rative blueprints, she conmmirc</text>
<text x="49" y="507.9" font-size="12" fill="#d0d4dc" textLength="234.7" lengthAdjust="spacingAndGlyphs">the chages and reponme thallegges of</text>
<text x="49" y="521" font-size="12" fill="#d0d4dc" textLength="208" lengthAdjust="spacingAndGlyphs">AI integration in the construction.</text>
<text x="840" y="471.1" font-size="17" stroke="#e6e9ef" stroke-width="0.8" textLength="135.4" lengthAdjust="spacingAndGlyphs">Data Data center</text>
<text x="741" y="490" font-size="9.8" fill="#c3c8d2" textLength="232.8" lengthAdjust="spacingAndGlyphs">The proceoxetem latcegtion I om contemcecction.</text>
<text x="741" y="502" font-size="9.8" fill="#c3c8d2" textLength="233" lengthAdjust="spacingAndGlyphs">ony hmaroes Onerges to the scortes troncenat</text>
<text x="741" y="515.2" font-size="9.8" fill="#c3c8d2" textLength="234.4" lengthAdjust="spacingAndGlyphs">cn the OE roohe cal GHsentrgy. AI Ineggran</text>
<text x="741" y="526.5" font-size="9.8" fill="#c3c8d2" textLength="95" lengthAdjust="spacingAndGlyphs">oua im contecation</text>
</g>
</svg>
</body></html>
